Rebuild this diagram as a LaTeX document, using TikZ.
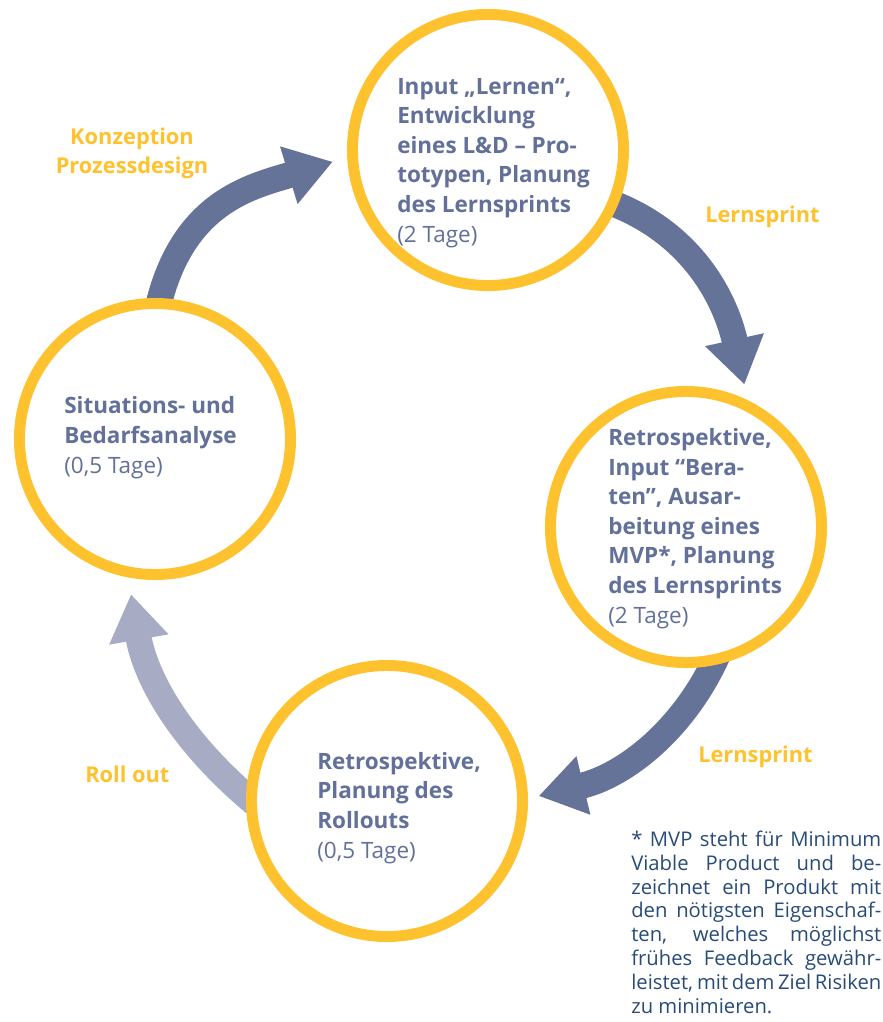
\documentclass[tikz,border=0pt]{standalone}
\usepackage{fontspec}
\setmainfont{Open Sans}
\usetikzlibrary{arrows.meta,backgrounds}

\definecolor{ringyellow}{HTML}{FDC22E}
\definecolor{arrowblue}{HTML}{667399}
\definecolor{arrowgrey}{HTML}{A7ABC4}
\definecolor{textblue}{HTML}{62709A}
\definecolor{noteblue}{HTML}{284B78}

\tikzset{
  phase/.style={circle, draw=ringyellow, fill=white, line width=7.8pt,
    minimum size=6.775cm, inner sep=0pt},
  phasetext/.style={anchor=base west, align=left, inner sep=0pt, text=textblue,
    font=\fontsize{16}{21}\selectfont\bfseries},
  steplabel/.style={inner sep=0pt, text=ringyellow,
    font=\fontsize{15.5}{20.5}\selectfont\bfseries},
  flow/.style={line width=18.5pt, draw=arrowblue, shorten <=-8pt,
    -{Triangle[width=40.5pt,length=32.7pt]}},
}

\begin{document}
\begin{tikzpicture}[x=0.025cm, y=-0.025cm]
    \useasboundingbox (0,0) rectangle (883,1022);

    % the four phases
    \node[phase] (input) at (488,150) {};
    \node[phase] (retro) at (686,527) {};
    \node[phase] (rollout) at (387,801) {};
    \node[phase] (analyse) at (155,439) {};

    % texts sit on the baseline of their last line
    \node[phasetext] (inputtext) at (397,242)
        {Input „Lernen“,\\Entwicklung\\eines L\&D – Pro-\\totypen, Planung\\des Lernsprints\\{\mdseries (2 Tage)}};
    \node[phasetext] (retrotext) at (608,623)
        {Retrospektive,\\Input “Bera-\\ten”, Ausar-\\beitung eines\\MVP*, Planung\\des Lernsprints\\{\mdseries (2 Tage)}};
    \node[phasetext] (rollouttext) at (317,858)
        {Retrospektive,\\Planung des\\Rollouts\\{\mdseries (0,5 Tage)}};
    \node[phasetext] (analysetext) at (64,473)
        {Situations- und\\Bedarfsanalyse\\{\mdseries (0,5 Tage)}};

    % arrows between the phases
    \begin{scope}[on background layer]
    \draw[flow, shorten >=10.7pt] (analyse.88) .. controls +(22,-97) and +(-95,29) .. (input.183);
    \draw[flow, shorten >=11.4pt] (input.-23) .. controls +(75,27) and +(-22,-100) .. (retro.64);
    \draw[flow, shorten >=7.8pt] (retro.-79) .. controls +(-29,64) and +(97,-23) .. (rollout.1);
    \draw[flow, draw=arrowgrey, shorten >=12.1pt] (rollout.178) .. controls +(-69,-58) and +(17,98) .. (analyse.259);
    \end{scope}

    \node[steplabel, align=center, anchor=base] (konzeption) at (132,173) {Konzeption\\Prozessdesign};
    \node[steplabel, anchor=base west] (sprintone) at (705,222) {Lernsprint};
    \node[steplabel, anchor=base west] (sprinttwo) at (698,762) {Lernsprint};
    \node[steplabel, anchor=base west] (rolloutlabel) at (85,782) {Roll out};

    % footnote
    \node[anchor=base west, align=left, inner sep=0pt, text=noteblue,
        font=\fontsize{14.4}{16.9}\selectfont] (mvpnote) at (631,1013)
        {\makebox[177.8pt][s]{* MVP steht für Minimum}\\
         \makebox[177.8pt][s]{Viable Product und be-}\\
         \makebox[177.8pt][s]{zeichnet ein Produkt mit}\\
         \makebox[177.8pt][s]{den nötigsten Eigenschaf-}\\
         \makebox[177.8pt][s]{ten, welches möglichst}\\
         \makebox[177.8pt][s]{frühes Feedback gewähr-}\\
         \makebox[177.8pt][s]{leistet, mit dem Ziel Risiken}\\
         zu minimieren.};
\end{tikzpicture}
\end{document}
